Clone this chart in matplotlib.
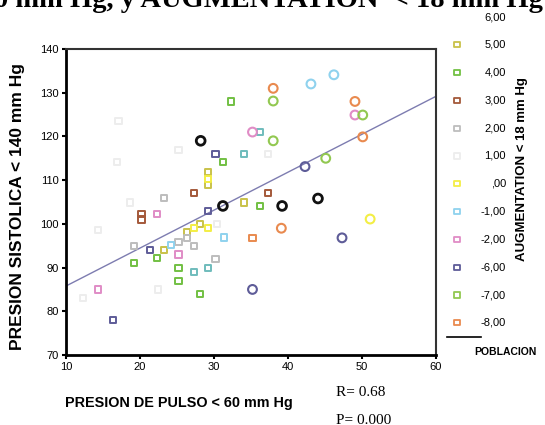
import matplotlib
matplotlib.use("Agg")
import matplotlib.pyplot as plt
import numpy as np

plt.rcParams['font.family'] = ['Liberation Sans', 'DejaVu Sans']

# grupos de AUGMENTATION (etiqueta, color del marcador)
grupos = ['6,00', '5,00', '4,00', '3,00', '2,00', '1,00', ',00',
          '-1,00', '-2,00', '-6,00', '-7,00', '-8,00']
colores = ['#ffffff', '#c9c24a', '#72c043', '#a4593a', '#bdbdbd', '#ededed',
           '#f3ee45', '#8fd2ee', '#e08cc6', '#5e5c98', '#92c851', '#e98a4f']

# cuadrados: presion de pulso (x) y sistolica (y) por grupo
sq_x = {
    '5,00': [29.2, 29.2, 34.1, 28.1, 26.3, 23.2],
    '4,00': [32.3, 31.2, 36.2, 22.3, 19.2, 25.2, 25.2, 28.1],
    '3,00': [27.3, 20.2, 20.2, 37.3],
    '2,00': [23.2, 26.3, 25.2, 27.3, 19.2, 30.2],
    '1,00': [18.6, 37.3, 17.1, 16.9, 25.2, 22.4, 12.3, 14.3, 30.4],
    ',00': [29.2, 27.3, 29.2],
    '-1,00': [24.2, 31.3],
    '-2,00': [22.3, 14.3, 25.2],
    '-6,00': [30.2, 29.2, 21.3, 16.3],
    '-8,00': [35.2],
}
sq_y = {
    '5,00': [111.9, 108.9, 104.9, 100.0, 98.1, 94.0],
    '4,00': [128.0, 114.1, 104.1, 92.2, 91.0, 89.9, 86.9, 83.9],
    '3,00': [107.1, 102.2, 101.0, 107.0],
    '2,00': [106.0, 96.8, 95.9, 94.9, 94.9, 92.0],
    '1,00': [104.9, 115.9, 123.5, 114.2, 116.9, 85.0, 83.0, 98.6, 100.0],
    ',00': [110.2, 99.1, 99.1],
    '-1,00': [95.1, 96.9],
    '-2,00': [102.2, 85.0, 93.0],
    '-6,00': [115.9, 102.9, 94.0, 78.0],
    '-8,00': [96.8],
}
# cuadrados verde azulado
teal_x = [36.2, 34.1, 27.3, 29.2]
teal_y = [121.0, 115.9, 89.0, 89.9]

# circulos por grupo
ci_x = {
    ',00': [51.1],
    '-1,00': [43.1, 46.2],
    '-2,00': [35.2, 49.05],
    '-6,00': [42.3, 47.3, 35.2],
    '-7,00': [38.0, 50.1, 38.0, 45.1],
    '-8,00': [38.0, 49.05, 50.1, 39.1],
}
ci_y = {
    ',00': [101.1],
    '-1,00': [132.0, 134.1],
    '-2,00': [121.0, 124.9],
    '-6,00': [113.1, 96.8, 85.0],
    '-7,00': [128.1, 124.9, 119.0, 115.0],
    '-8,00': [131.0, 128.0, 119.9, 99.0],
}
# poblacion (circulos negros)
pob_x = [28.2, 31.2, 39.2, 44.05]
pob_y = [119.0, 104.1, 104.1, 105.8]

# recta de regresion
pendiente = 0.868
intercepto = 77.1

fig = plt.figure(figsize=(5.45, 4.25), dpi=100)
ax = fig.add_axes([66 / 545, 1 - 355 / 425, 370 / 545, 306 / 425])

col = dict(zip(grupos, colores))
for g in sq_x:
    ax.scatter(sq_x[g], sq_y[g], marker='s', s=20, facecolors='none',
               edgecolors=col[g], linewidths=1.4, zorder=3)
ax.scatter(teal_x, teal_y, marker='s', s=20, facecolors='none',
           edgecolors='#6fbcbc', linewidths=1.4, zorder=3)
for g in ci_x:
    ax.scatter(ci_x[g], ci_y[g], marker='o', s=40, facecolors='none',
               edgecolors=col[g], linewidths=1.5, zorder=3)
ax.scatter(pob_x, pob_y, marker='o', s=40, facecolors='none',
           edgecolors='#111111', linewidths=2.0, zorder=4)

xr = np.array([10, 60])
ax.plot(xr, intercepto + pendiente * xr, color='#7d7cb0', lw=1.0, zorder=2)

ax.set_xlim(10, 60)
ax.set_ylim(70, 140)
ax.set_xticks(range(10, 61, 10))
ax.set_yticks(range(70, 141, 10))
ax.tick_params(labelsize=8, length=3, width=1.5, pad=2)
for s in ['left', 'bottom']:
    ax.spines[s].set_linewidth(2)
for s in ['top', 'right']:
    ax.spines[s].set_linewidth(1.5)
    ax.spines[s].set_color('#333333')

fig.text(18 / 545, 1 - 206 / 425, 'PRESION SISTOLICA < 140 mm Hg',
         fontsize=12.5, fontweight='bold', rotation=90,
         ha='center', va='center')
fig.text(179 / 545, 1 - 403 / 425, 'PRESION DE PULSO < 60 mm Hg',
         fontsize=10.4, fontweight='bold', ha='center', va='center')

fig.text(336 / 545, 1 - 392 / 425, 'R= 0.68', family='Liberation Serif',
         fontsize=11, ha='left', va='center')
fig.text(336 / 545, 1 - 421 / 425, 'P= 0.000', family='Liberation Serif',
         fontsize=11, ha='left', va='center')

# titulo cortado en la parte superior
fig.text(543 / 545, 1 - 7 / 425,
         'PRESION DE PULSO < 60 mm Hg, y AUGMENTATION  < 18 mm Hg',
         family='Liberation Serif', fontweight='bold', fontsize=20.5,
         ha='right', va='baseline')

# leyenda
lg = fig.add_axes([445 / 545, 0, 100 / 545, 1])
lg.set_xlim(445, 545)
lg.set_ylim(425, 0)
lg.axis('off')
ys = 17 + 27.8 * np.arange(len(grupos))
for g, yy in zip(grupos, ys):
    lg.scatter([457], [yy], marker='s', s=14, facecolors='none',
               edgecolors=col[g], linewidths=1.3)
    lg.text(506, yy, g, fontsize=8, ha='right', va='center')
lg.plot([447, 481], [337, 337], color='black', lw=1.2)
lg.text(474, 352, 'POBLACION', fontsize=7.5, fontweight='bold',
        ha='left', va='center')
fig.text(522 / 545, 1 - 169 / 425, 'AUGMENTATION < 18 mm Hg', fontsize=9.5,
         fontweight='bold', rotation=90, ha='center', va='center')

fig.savefig('out.png', dpi=100)
